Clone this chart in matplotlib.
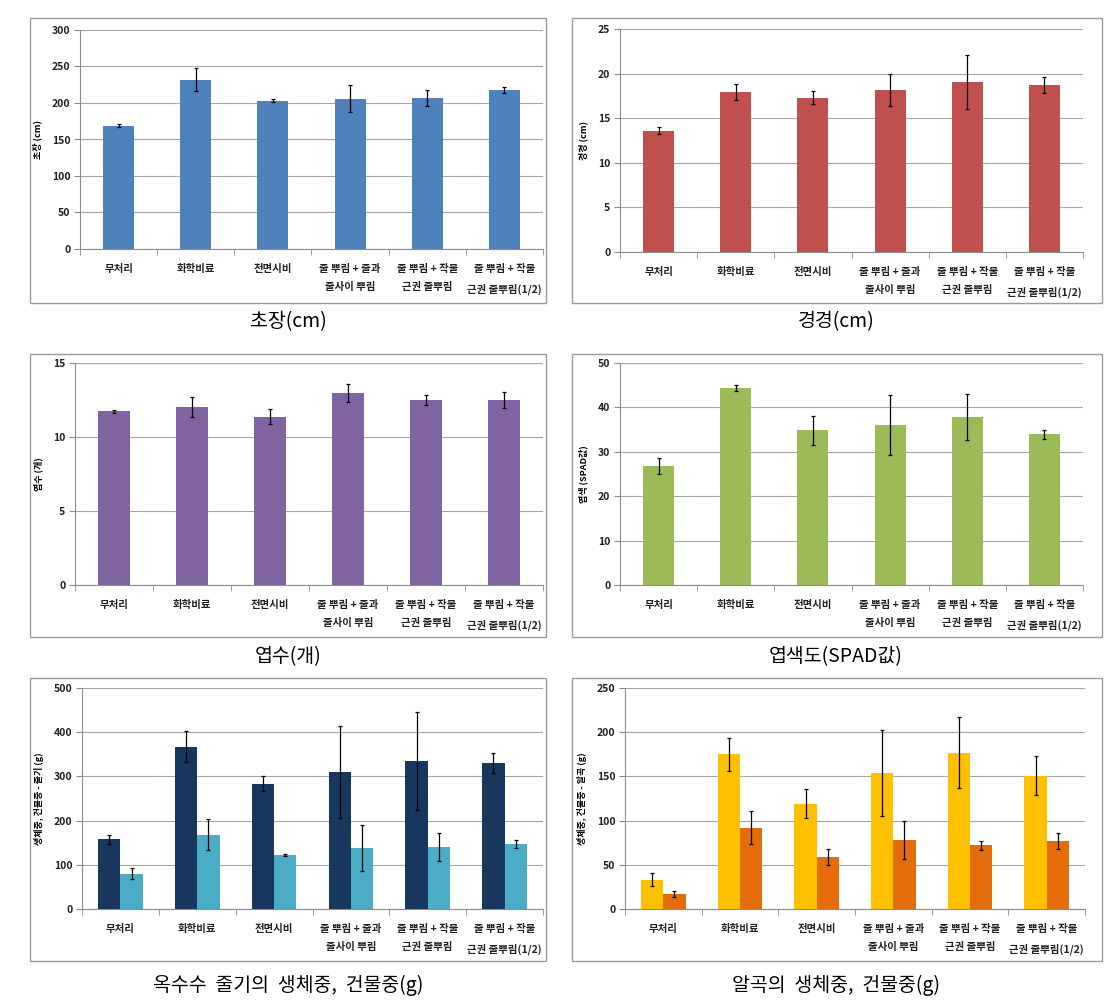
import matplotlib.pyplot as plt
import numpy as np
from matplotlib.patches import Rectangle

plt.rcParams['font.family'] = ['Noto Sans CJK KR', 'DejaVu Sans']
plt.rcParams['axes.unicode_minus'] = False

W, H = 1110, 1005

# 처리구 (x축)
labels = ["무처리", "화학비료", "전면시비",
          "줄 뿌림 + 줄과\n줄사이 뿌림", "줄 뿌림 + 작물\n근권 줄뿌림",
          "줄 뿌림 + 작물\n근권 줄뿌림(1/2)"]

# 초장
height = [169, 232, 203, 206, 207, 218]
height_err = [2, 16, 2, 19, 11, 4]
# 경경
stem = [13.6, 17.95, 17.3, 18.2, 19.05, 18.7]
stem_err = [0.4, 0.9, 0.75, 1.8, 3.05, 0.9]
# 엽수
leaves = [11.73, 12.03, 11.37, 12.97, 12.5, 12.5]
leaves_err = [0.08, 0.65, 0.5, 0.6, 0.34, 0.52]
# 엽색도
spad = [26.8, 44.4, 34.8, 36.0, 37.9, 33.9]
spad_err = [1.9, 0.6, 3.3, 6.7, 5.2, 1.0]
# 옥수수 줄기 생체중 / 건물중
stalk_fresh = [158, 367, 283, 310, 334, 331]
stalk_fresh_err = [10, 35, 17, 104, 111, 23]
stalk_dry = [80, 168, 122, 138, 140, 147]
stalk_dry_err = [12, 35, 2, 51, 31, 10]
# 알곡 생체중 / 건물중
grain_fresh = [33, 175, 119, 154, 177, 151]
grain_fresh_err = [7.5, 19, 16.5, 49, 40.6, 22]
grain_dry = [17, 92, 59, 78, 72, 77]
grain_dry_err = [3.4, 19, 9.4, 22, 5, 8.6]

fig = plt.figure(figsize=(W / 100, H / 100), dpi=100)


def px_axes(l, t, r, b):
    return fig.add_axes([l / W, 1 - b / H, (r - l) / W, (b - t) / H])


def box(l, t, r, b):
    fig.patches.append(Rectangle((l / W, 1 - b / H), (r - l) / W, (b - t) / H,
                                 transform=fig.transFigure, fill=False,
                                 edgecolor='#9a9a9a', lw=1.0))


def style(ax, ymax, step, ylabel):
    x = np.arange(len(labels))
    ax.set_xlim(-0.5, len(labels) - 0.5)
    ax.set_ylim(0, ymax)
    ax.set_yticks(np.arange(0, ymax + step / 2, step))
    ax.yaxis.grid(True, color='#a6a6a6', lw=0.8)
    ax.set_axisbelow(True)
    for s in ['top', 'right']:
        ax.spines[s].set_visible(False)
    ax.spines['left'].set_color('#8c8c8c')
    ax.spines['bottom'].set_color('#8c8c8c')
    ax.set_xticks(x)
    ax.set_xticklabels(labels, fontsize=7.5, linespacing=2.0,
                       fontweight='bold', color='#222222')
    ax.set_xticks(np.arange(-0.5, len(labels), 1), minor=True)
    ax.tick_params(axis='x', which='major', length=0, pad=11)
    ax.tick_params(axis='x', which='minor', length=4, color='#8c8c8c')
    ax.tick_params(axis='y', length=4, color='#8c8c8c', labelsize=7.5, pad=3)
    for t in ax.get_yticklabels():
        t.set_fontweight('bold')
        t.set_color('#222222')
    ax.set_ylabel(ylabel, fontsize=6.5, labelpad=7, fontweight='bold')


def single(ax, vals, errs, color):
    x = np.arange(len(vals))
    ax.bar(x, vals, width=0.4, color=color, zorder=2)
    ax.errorbar(x, vals, yerr=errs, fmt='none', ecolor='black',
                elinewidth=0.9, capsize=1.5, capthick=0.9, zorder=3)


def double(ax, v1, e1, c1, v2, e2, c2):
    x = np.arange(len(v1))
    w = 0.29
    ax.bar(x - w / 2, v1, width=w, color=c1, zorder=2)
    ax.bar(x + w / 2, v2, width=w, color=c2, zorder=2)
    ax.errorbar(x - w / 2, v1, yerr=e1, fmt='none', ecolor='black',
                elinewidth=0.9, capsize=1.5, capthick=0.9, zorder=3)
    ax.errorbar(x + w / 2, v2, yerr=e2, fmt='none', ecolor='black',
                elinewidth=0.9, capsize=1.5, capthick=0.9, zorder=3)


cap_kw = dict(fontsize=14, ha='center', va='center')

# 1행
box(30, 18, 546, 303)
ax = px_axes(80, 30, 543, 249)
single(ax, height, height_err, '#4F81BD')
style(ax, 300, 50, '초장 (cm)')
fig.text(288 / W, 1 - 322 / H, '초장(cm)', **cap_kw)

box(572, 18, 1102, 303)
ax = px_axes(620, 29, 1083, 252)
single(ax, stem, stem_err, '#C0504D')
style(ax, 25, 5, '경경 (cm)')
fig.text(836 / W, 1 - 322 / H, '경경(cm)', **cap_kw)

# 2행
box(30, 354, 546, 637)
ax = px_axes(75, 363, 543, 585)
single(ax, leaves, leaves_err, '#8064A2')
style(ax, 15, 5, '엽수 (개)')
fig.text(288 / W, 1 - 657 / H, '엽수(개)', **cap_kw)

box(572, 354, 1102, 637)
ax = px_axes(620, 363, 1083, 585)
single(ax, spad, spad_err, '#9BBB59')
style(ax, 50, 10, '엽색 (SPAD값)')
fig.text(836 / W, 1 - 657 / H, '엽색도(SPAD값)', **cap_kw)

# 3행
box(30, 678, 546, 961)
ax = px_axes(82, 688, 543, 909)
double(ax, stalk_fresh, stalk_fresh_err, '#17375E',
       stalk_dry, stalk_dry_err, '#4BACC6')
style(ax, 500, 100, '생체중, 건물중 - 줄기 (g)')
fig.text(288 / W, 1 - 985 / H, '옥수수  줄기의  생체중,  건물중(g)', **cap_kw)

box(572, 678, 1102, 961)
ax = px_axes(625, 688, 1085, 909)
double(ax, grain_fresh, grain_fresh_err, '#FFC000',
       grain_dry, grain_dry_err, '#E46C0A')
style(ax, 250, 50, '생체중, 건물중 - 알곡 (g)')
fig.text(836 / W, 1 - 985 / H, '알곡의  생체중,  건물중(g)', **cap_kw)

fig.savefig('out.png', dpi=100)
